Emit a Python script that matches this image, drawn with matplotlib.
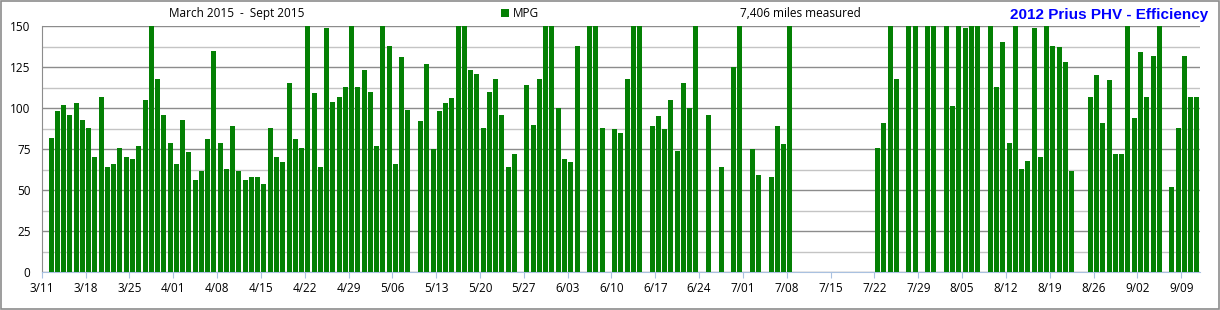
import numpy as np
import matplotlib.pyplot as plt
import matplotlib.transforms as mtransforms
from matplotlib.patches import Rectangle

# daily MPG, one entry per day starting 3/11/2015 (0 = no driving that day)
# bars at 150 run off the top of the chart
mpg = [
    0, 82, 98, 102, 96, 103, 93,        # 3/11
    88, 70, 107, 64, 66, 76, 70,        # 3/18
    69, 77, 105, 150, 118, 96, 79,      # 3/25
    66, 93, 73, 56, 62, 81, 135,        # 4/01
    79, 63, 89, 62, 56, 58, 58,         # 4/08
    54, 88, 70, 67, 115, 81, 76,        # 4/15
    150, 109, 64, 149, 104, 107, 113,   # 4/22
    150, 113, 123, 110, 77, 150, 138,   # 4/29
    66, 131, 99, 0, 92, 127, 75,        # 5/06
    98, 103, 106, 150, 150, 123, 121,   # 5/13
    88, 110, 118, 96, 64, 72, 0,        # 5/20
    114, 90, 118, 150, 150, 100, 69,    # 5/27
    67, 138, 0, 150, 150, 88, 0,        # 6/03
    87, 85, 118, 150, 150, 0, 89,       # 6/10
    95, 87, 105, 74, 115, 100, 150,     # 6/17
    0, 96, 0, 64, 0, 125, 150,          # 6/24
    0, 75, 59, 0, 58, 89, 78,           # 7/01
    150, 0, 0, 0, 0, 0, 0,              # 7/08
    0, 0, 0, 0, 0, 0, 0,                # 7/15
    76, 91, 150, 118, 0, 150, 150,      # 7/22
    0, 150, 150, 0, 150, 101, 150,      # 7/29
    149, 150, 150, 0, 150, 113, 140,    # 8/05
    79, 150, 63, 68, 149, 70, 150,      # 8/12
    138, 137, 128, 62, 0, 0, 107,       # 8/19
    120, 91, 117, 72, 72, 150, 94,      # 8/26
    134, 107, 132, 150, 0, 52, 88,      # 9/02
    132, 107, 107,                      # 9/09
]
week_labels = ['3/11', '3/18', '3/25', '4/01', '4/08', '4/15', '4/22', '4/29',
               '5/06', '5/13', '5/20', '5/27', '6/03', '6/10', '6/17', '6/24',
               '7/01', '7/08', '7/15', '7/22', '7/29', '8/05', '8/12', '8/19',
               '8/26', '9/02', '9/09']
y_ticks = [0, 25, 50, 75, 100, 125, 150]

plt.rcParams['font.family'] = ['Open Sans', 'DejaVu Sans']

fig = plt.figure(figsize=(12.2, 3.1), dpi=100)
ax = fig.add_axes([0.0342, 0.1216, 0.9494, 0.7945])

days = np.arange(len(mpg))
ax.bar(days + 0.5, mpg, width=0.8, color='#048004', label='MPG', zorder=3)

ax.set_xlim(0, len(mpg))
ax.set_ylim(0, 150)
ax.set_yticks(y_ticks)
ax.set_yticks(np.arange(12.5, 150, 25), minor=True)
ax.set_xticks(np.arange(len(week_labels)) * 7)
ax.set_xticklabels(week_labels)
# labels sit a couple of pixels right of the week tick, like the original
shift = mtransforms.ScaledTranslation(3 / 100, 0, fig.dpi_scale_trans)
for lbl in ax.get_xticklabels():
    lbl.set_transform(lbl.get_transform() + shift)

ax.grid(axis='y', which='major', color='#8c8c8c', linewidth=1, zorder=0)
ax.grid(axis='y', which='minor', color='#c4c4c4', linewidth=1, zorder=0)
ax.tick_params(axis='y', which='both', length=0, pad=8, labelsize=8.5)
ax.tick_params(axis='x', length=4, color='#a9c1e0', pad=3, labelsize=8.5)

for s in ['top', 'right']:
    ax.spines[s].set_visible(False)
ax.spines['left'].set_color('#8c8c8c')
ax.spines['bottom'].set_color('#a9c1e0')

# header line
fig.text(237 / 1220, 0.955, 'March 2015  -  Sept 2015', ha='center', va='center', fontsize=8.5)
fig.text(800 / 1220, 0.955, '7,406 miles measured', ha='center', va='center', fontsize=8.5)
fig.text(1208 / 1220, 0.953, '2012 Prius PHV - Efficiency', ha='right', va='center',
         fontsize=11, fontweight='bold', color='#0000ff', family=['Liberation Sans'])
ax.legend(loc='center', bbox_to_anchor=(520 / 1220, 0.955), bbox_transform=fig.transFigure,
          frameon=False, fontsize=8.5, handlelength=0.7, handleheight=0.7, handletextpad=0.3)

fig.patches.append(Rectangle((0.001, 0.002), 0.998, 0.995, transform=fig.transFigure,
                             fill=False, edgecolor='#8c8c8c', linewidth=1.2))

fig.savefig('out.png', dpi=100)
